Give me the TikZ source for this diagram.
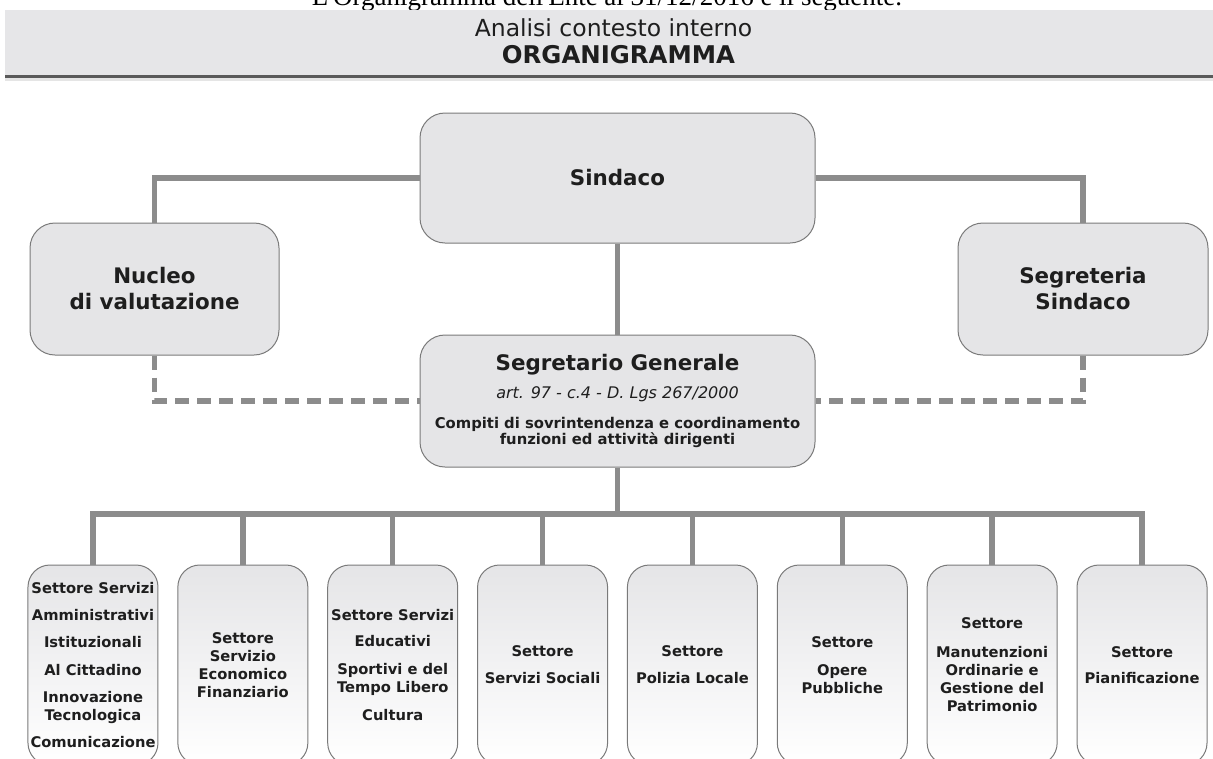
\documentclass[tikz,border=0pt]{standalone}
\usepackage[dvipsnames]{xcolor}
\usepackage{fontspec}
\setmainfont{DejaVu Sans}
\newfontfamily\introfont{Liberation Serif}
\usepackage{tikz}
\usetikzlibrary{positioning}
\usetikzlibrary{calc}

\definecolor{BoxFill}{HTML}{E5E5E7}
\definecolor{BoxEdge}{HTML}{7A7A7A}
\definecolor{LineGray}{HTML}{8C8C8C}
\definecolor{BandFill}{HTML}{E6E6E8}
\definecolor{BandEdge}{HTML}{5A5A5A}
\definecolor{TextDark}{HTML}{1E1E1E}

\setlength{\lineskiplimit}{-100pt}

\tikzset{
	ufficio/.style={draw=BoxEdge, line width=1pt, fill=BoxFill, rounded corners=25pt,
		align=center, text=TextDark, inner sep=0pt,
		font=\bfseries\fontsize{21.4}{26}\selectfont},
	settore/.style={draw=BoxEdge, line width=1pt, top color=BoxFill, bottom color=white,
		rounded corners=22pt, align=center, text=TextDark, inner sep=0pt,
		minimum width=130pt, minimum height=200pt,
		font=\bfseries\fontsize{14.7}{18}\selectfont},
	linea/.style={draw=LineGray, line width=5.5pt},
	lineatratto/.style={linea, dash pattern=on 14pt off 8pt},
}

\begin{document}
\begin{tikzpicture}[x=1pt, y=-1pt]

	% ------------------------------------------------
	% Size of the page
	\useasboundingbox (0,0) rectangle (1213,758);

	% ------------------------------------------------
	% Heading band
	\node[anchor=base, font=\introfont\fontsize{27}{32}\selectfont] (Intro) at (607,5)
		{L'Organigramma dell'Ente al 31/12/2016 è il seguente.};
	\fill[BandFill] (5,10) rectangle (1213,76);
	\fill[black!10] (5,77) rectangle (1213,81);
	\draw[BandEdge, line width=2.5pt] (5,76.5) -- (1213,76.5);

	\node[anchor=base, text=TextDark, font=\fontsize{23.5}{28}\selectfont] (Analisi) at (613.5,36)
		{Analisi contesto interno};
	\node[anchor=base, text=TextDark, font=\bfseries\fontsize{24.4}{28}\selectfont] (Titolo) at (618.5,63)
		{ORGANIGRAMMA};

	% ------------------------------------------------
	% Relevant coordinates
	\coordinate (Top) at (617.5,178);

	\path (Top) +(-463.0,111.0) coordinate (Left);
	\path (Top) +(465.5,111.0)  coordinate (Right);
	\path (Top) +(0.0,223.0)    coordinate (Mid);
	\path (Mid) +(0.0,113.0)    coordinate (Bar);
	\path (Bar) +(0.0,151.0)    coordinate (Row);

	\foreach \i in {1,...,8}
		\path (Row) +({(\i-4.5)*149.86},0) coordinate (C\i);

	% ----------------
	% Upper offices
	\node[ufficio, minimum width=395pt, minimum height=130pt] (Sindaco) at (Top) {Sindaco};
	\node[ufficio, minimum width=249pt, minimum height=132pt] (Nucleo) at (Left)
		{Nucleo\\di valutazione};
	\node[ufficio, minimum width=250pt, minimum height=132pt] (Segreteria) at (Right)
		{Segreteria\\Sindaco};
	\node[ufficio, minimum width=395pt, minimum height=132pt,
		font=\bfseries\fontsize{14.8}{16}\selectfont] (SegGen) at (Mid)
		{{\fontsize{21.4}{26}\selectfont Segretario Generale}\\[12pt]
		 {\mdseries\itshape\fontsize{16}{19}\selectfont art. 97 - c.4 - D. Lgs 267/2000}\\[14pt]
		 Compiti di sovrintendenza e coordinamento\\
		 funzioni ed attività dirigenti};

	% ----------------
	% Sectors
	\node[settore] (S1) at (C1) {Settore Servizi\\[9pt]Amministrativi\\[9pt]Istituzionali\\[10pt]
		Al Cittadino\\[9pt]Innovazione\\Tecnologica\\[9pt]Comunicazione};
	\node[settore] (S2) at (C2) {Settore\\Servizio\\Economico\\Finanziario};
	\node[settore] (S3) at (C3) {Settore Servizi\\[8pt]Educativi\\[10pt]Sportivi e del\\
		Tempo Libero\\[10pt]Cultura};
	\node[settore] (S4) at (C4) {Settore\\[9pt]Servizi Sociali};
	\node[settore] (S5) at (C5) {Settore\\[9pt]Polizia Locale};
	\node[settore] (S6) at (C6) {Settore\\[10pt]Opere\\Pubbliche};
	\node[settore] (S7) at (C7) {Settore\\[11pt]Manutenzioni\\Ordinarie e\\Gestione del\\Patrimonio};
	\node[settore] (S8) at (C8) {Settore\\[8pt]Pianificazione};

	% ------------------------------------------------
	% Connectors
	\draw[linea] (Sindaco.west) -| (Nucleo.north);
	\draw[linea] (Sindaco.east) -| (Segreteria.north);
	\draw[linea] (Sindaco.south) -- (SegGen.north);

	\draw[lineatratto] (Nucleo.south) |- (SegGen.west);
	\draw[lineatratto] (Segreteria.south) |- (SegGen.east);

	\draw[linea] (SegGen.south) -- (Bar);
	\draw[linea] (S1.north) -- (S1.north |- Bar) -- (S8.north |- Bar) -- (S8.north);
	\foreach \i in {2,...,7}
		\draw[linea] (Bar -| S\i.north) -- (S\i.north);

\end{tikzpicture}
\end{document}
